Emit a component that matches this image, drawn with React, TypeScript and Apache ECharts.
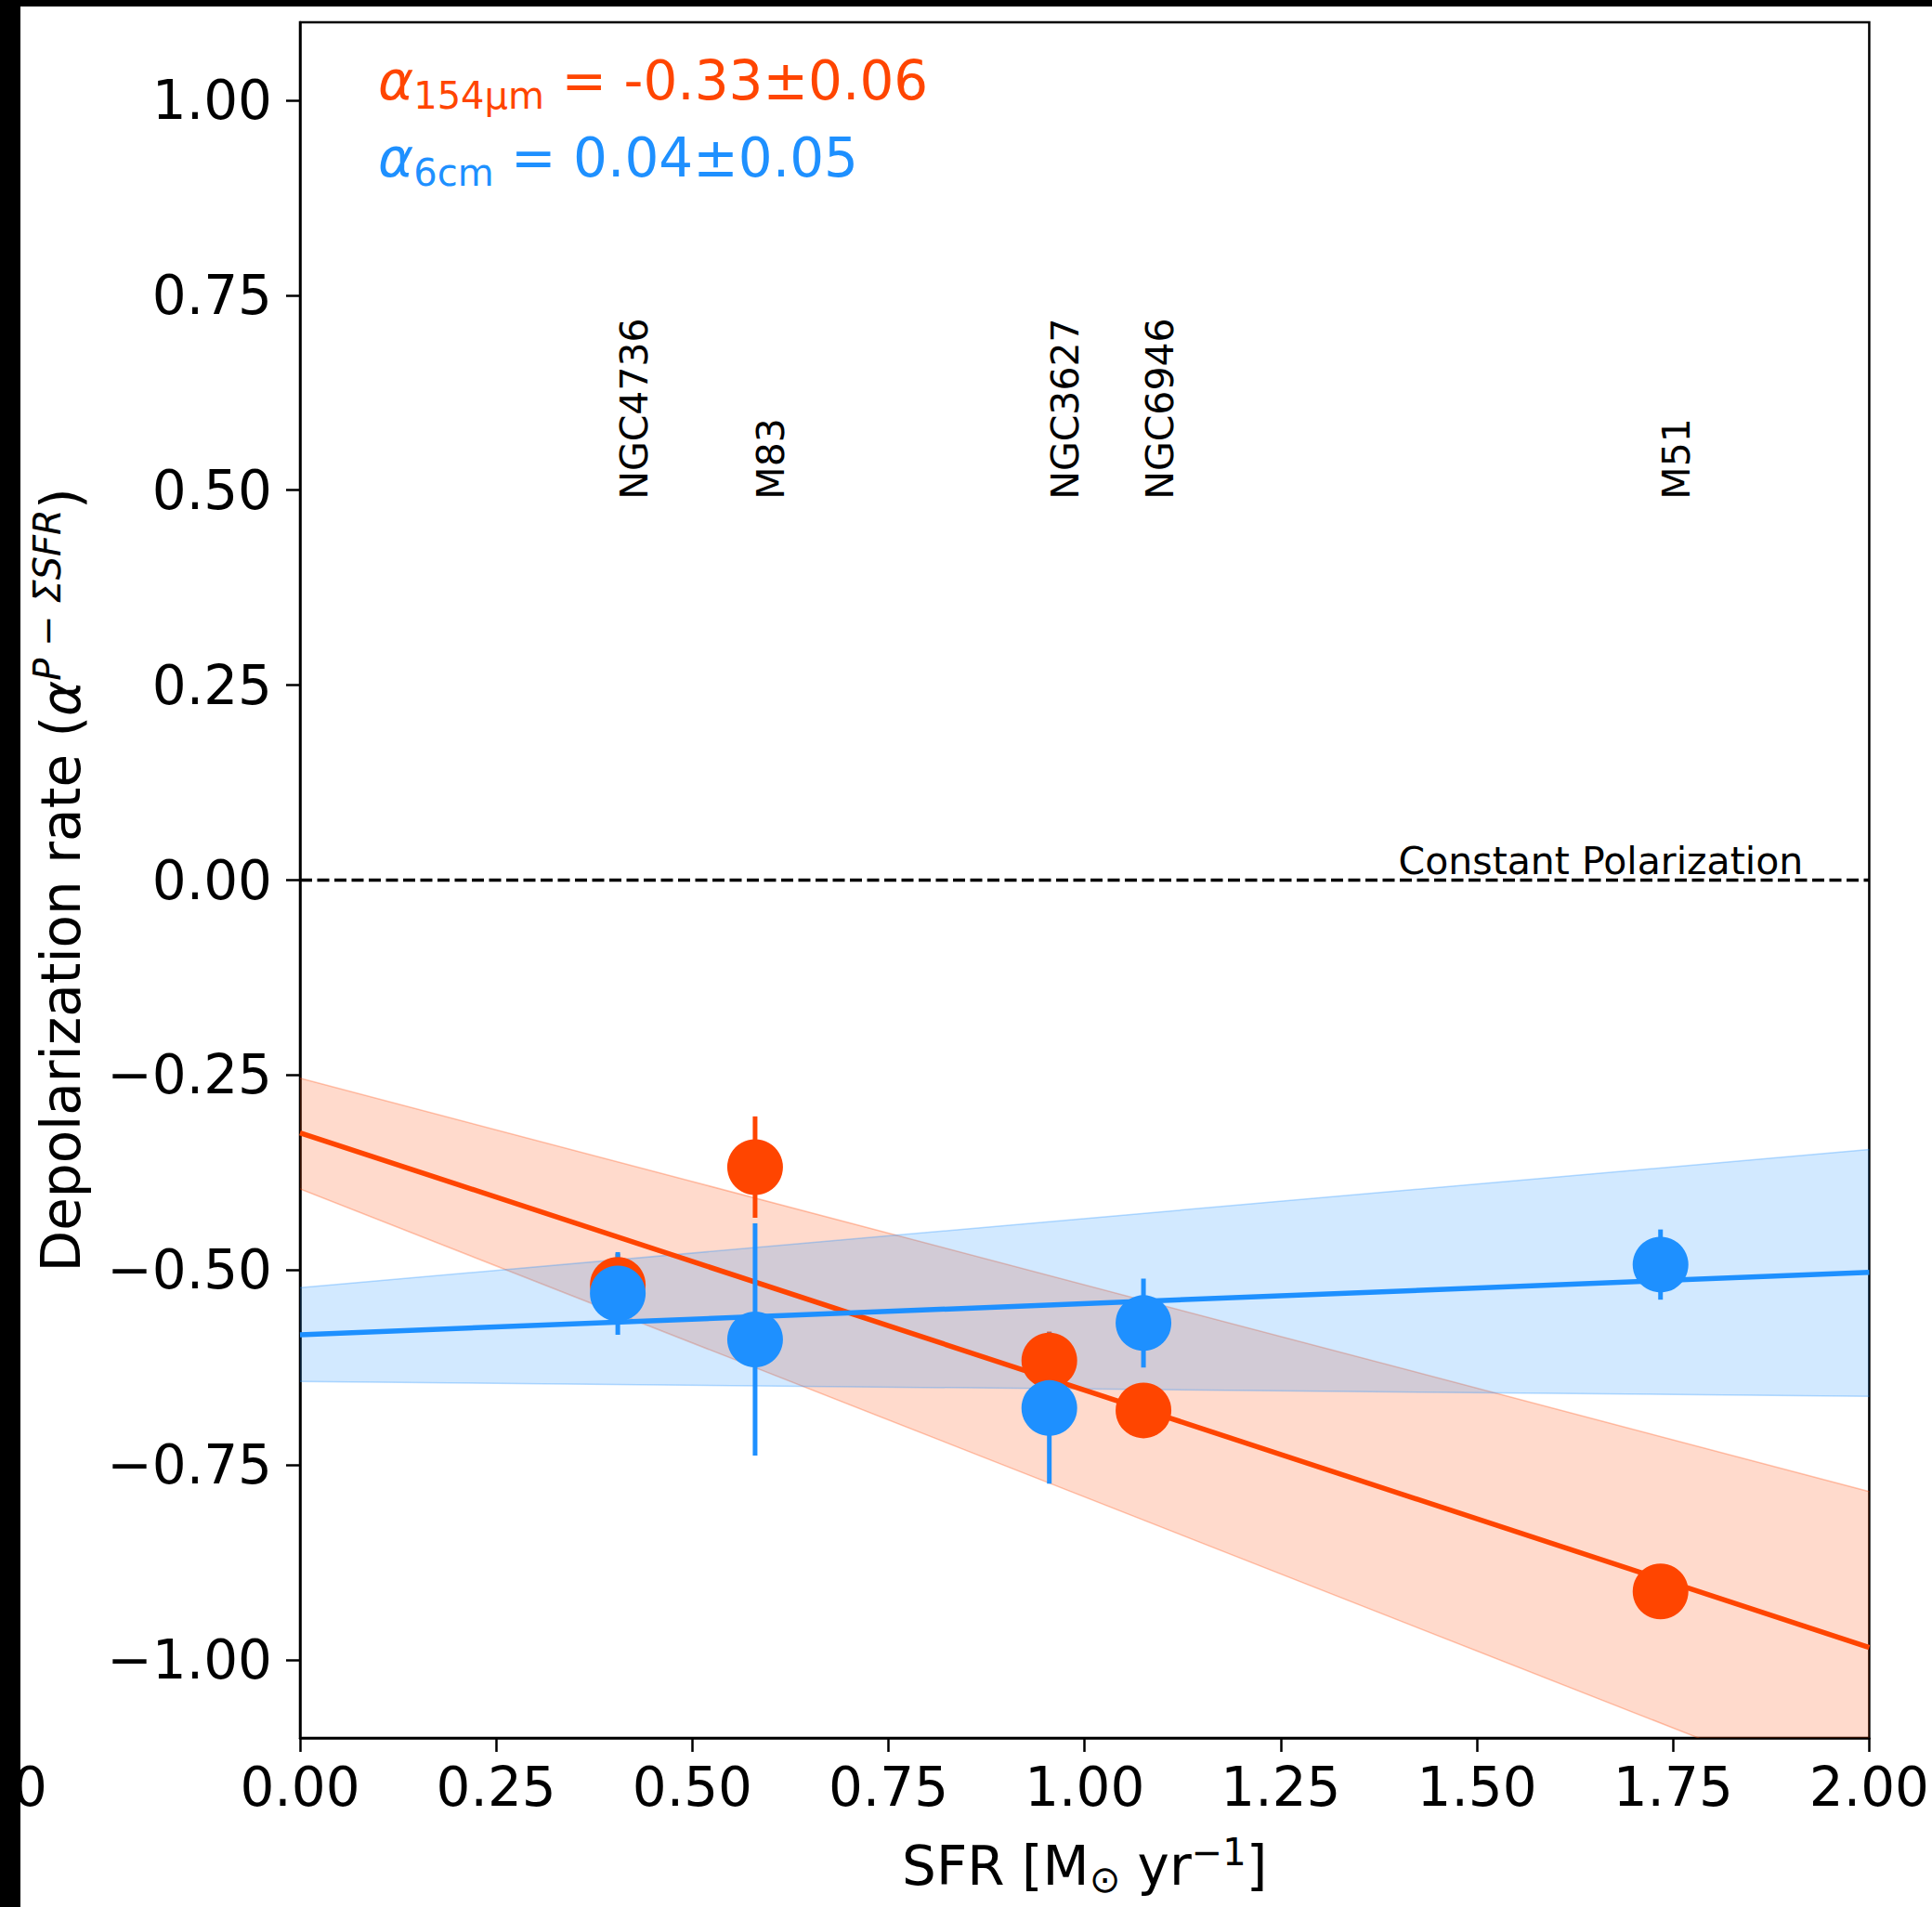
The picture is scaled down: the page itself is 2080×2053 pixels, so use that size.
import React, { useEffect, useRef } from 'react';
import * as echarts from 'echarts';

// ---------------- data ----------------
const galaxies = ['NGC4736', 'M83', 'NGC3627', 'NGC6946', 'M51'];
const sfr = [0.405, 0.58, 0.955, 1.075, 1.734];
const alpha154 = [-0.519, -0.368, -0.616, -0.68, -0.912];
const alpha154Err = [0.04, 0.065, 0.037, 0.025, 0.025];
const alpha6 = [-0.53, -0.589, -0.677, -0.568, -0.493];
const alpha6Err = [0.053, 0.149, 0.097, 0.057, 0.045];

const fitX = [0, 2];
const fit154 = [-0.324, -0.984];
const fit154Upper = [-0.254, -0.784];
const fit154Lower = [-0.396, -1.186];
const fit6 = [-0.583, -0.503];
const fit6Upper = [-0.5225, -0.3455];
const fit6Lower = [-0.643, -0.662];

const xTicks = [0, 0.25, 0.5, 0.75, 1, 1.25, 1.5, 1.75, 2];
const yTicks = [-1, -0.75, -0.5, -0.25, 0, 0.25, 0.5, 0.75, 1];
const xRange = [0, 2];
const yRange = [-1.1, 1.1];
const refLineY = 0;
const refLabelX = 1.4;
const refLabel = 'Constant Polarization';
const galaxyLabelY = 0.5;
const fitText154 = ['154μm', ' = -0.33±0.06'];
const fitText6 = ['6cm', ' = 0.04±0.05'];

// ---------------- style ----------------
const ORANGE = '#FF4500';
const BLUE = '#1E90FF';
const FONT = 'DejaVu Sans';
const W = 2080;
const H = 2053;

const fmt = (v: number) => Number(v).toFixed(2).replace('-', '\u2212');

function bandSeries(upper: number[], lower: number[], fill: string, edge: string, z: number) {
  return {
    type: 'custom',
    z,
    clip: true,
    silent: true,
    encode: { x: 0, y: [1, 2] },
    data: fitX.map((x, i) => [x, lower[i], upper[i]]),
    renderItem: (params: any, api: any) => {
      if (params.dataIndex !== 0) return null;
      const up = fitX.map((x, i) => api.coord([x, upper[i]]));
      const lo = fitX.map((x, i) => api.coord([x, lower[i]]));
      return {
        type: 'group',
        children: [
          { type: 'polygon', shape: { points: [...up, ...lo.slice().reverse()] }, style: { fill, stroke: 'none' } },
          { type: 'polyline', shape: { points: up }, style: { stroke: edge, lineWidth: 1.5, fill: 'none' } },
          { type: 'polyline', shape: { points: lo }, style: { stroke: edge, lineWidth: 1.5, fill: 'none' } },
        ],
      };
    },
  };
}

function errSeries(ys: number[], errs: number[], color: string, z: number) {
  return {
    type: 'custom',
    z,
    silent: true,
    encode: { x: 0, y: 1 },
    data: sfr.map((x, i) => [x, ys[i], errs[i]]),
    renderItem: (params: any, api: any) => {
      const x = api.value(0);
      const y = api.value(1);
      const e = api.value(2);
      const p1 = api.coord([x, y - e]);
      const p2 = api.coord([x, y + e]);
      return {
        type: 'line',
        shape: { x1: p1[0], y1: p1[1], x2: p2[0], y2: p2[1] },
        style: { stroke: color, lineWidth: 5 },
      };
    },
  };
}

function pointSeries(ys: number[], color: string, z: number) {
  return {
    type: 'scatter',
    z,
    symbol: 'circle',
    symbolSize: 60,
    itemStyle: { color, opacity: 1, borderWidth: 0 },
    data: sfr.map((x, i) => [x, ys[i]]),
  };
}

function fitSeries(ys: number[], color: string, z: number) {
  return {
    type: 'line',
    z,
    symbol: 'none',
    silent: true,
    lineStyle: { color, width: 5.5 },
    data: fitX.map((x, i) => [x, ys[i]]),
  };
}

const mainRich = {
  t: { fontFamily: FONT, fontSize: 58, lineHeight: 70, color: '#000', verticalAlign: 'middle' },
  a: { fontFamily: FONT, fontSize: 58, lineHeight: 70, fontStyle: 'italic', color: '#000', verticalAlign: 'middle' },
  p: { fontFamily: FONT, fontSize: 40, lineHeight: 40, fontStyle: 'italic', color: '#000', padding: [0, 0, 30, 0], verticalAlign: 'middle' },
  sub: { fontFamily: FONT, fontSize: 40, lineHeight: 40, color: '#000', padding: [28, 0, 0, 0], verticalAlign: 'middle' },
  sup: { fontFamily: FONT, fontSize: 40, lineHeight: 40, color: '#000', padding: [0, 0, 30, 0], verticalAlign: 'middle' },
};

function formulaRich(color: string) {
  return {
    a: { fontFamily: FONT, fontSize: 58, lineHeight: 72, fontStyle: 'italic', fill: color, verticalAlign: 'middle' },
    s: { fontFamily: FONT, fontSize: 40, lineHeight: 40, fill: color, padding: [32, 0, 0, 0], verticalAlign: 'middle' },
    m: { fontFamily: FONT, fontSize: 58, lineHeight: 72, fill: color, verticalAlign: 'middle' },
  };
}

export default function App() {
  const ref = useRef<HTMLDivElement>(null);

  useEffect(() => {
    const chart = echarts.init(ref.current as HTMLDivElement, null, { renderer: 'svg', width: W, height: H });

    const option: any = {
      animation: false,
      backgroundColor: '#ffffff',
      grid: {
        left: 323,
        top: 24,
        width: 1690,
        height: 1847,
        show: true,
        borderColor: '#000',
        borderWidth: 2.5,
        backgroundColor: 'transparent',
      },
      xAxis: {
        type: 'value',
        min: xRange[0],
        max: xRange[1],
        interval: 0.25,
        axisLine: { show: true, onZero: false, lineStyle: { color: '#000', width: 2.5 } },
        axisTick: { show: true, length: 15, lineStyle: { color: '#000', width: 2.5 }, customValues: xTicks },
        axisLabel: {
          customValues: xTicks,
          formatter: fmt,
          fontFamily: FONT,
          fontSize: 58,
          lineHeight: 58,
          color: '#000',
          margin: 24,
        },
        splitLine: { show: false },
        name: '{t|SFR [M}{sub|⊙}{t| yr}{sup|\u22121}{t|]}',
        nameLocation: 'middle',
        nameGap: 103,
        nameTextStyle: { fontFamily: FONT, fontSize: 58, color: '#000', rich: mainRich },
      },
      yAxis: {
        type: 'value',
        min: yRange[0],
        max: yRange[1],
        axisLine: { show: true, onZero: false, lineStyle: { color: '#000', width: 2.5 } },
        axisTick: { show: true, length: 15, lineStyle: { color: '#000', width: 2.5 }, customValues: yTicks },
        axisLabel: {
          customValues: yTicks,
          formatter: fmt,
          fontFamily: FONT,
          fontSize: 58,
          color: '#000',
          margin: 30,
        },
        splitLine: { show: false },
        name: '{t|Depolarization rate (}{a|α}{p|P \u2212 ΣSFR}{t|)}',
        nameLocation: 'middle',
        nameRotate: 90,
        nameGap: 222,
        nameTextStyle: { fontFamily: FONT, fontSize: 58, color: '#000', rich: mainRich },
      },
      series: [
        bandSeries(fit154Upper, fit154Lower, 'rgba(255,69,0,0.2)', 'rgba(255,69,0,0.3)', 1),
        bandSeries(fit6Upper, fit6Lower, 'rgba(30,144,255,0.2)', 'rgba(30,144,255,0.3)', 2),
        {
          type: 'line',
          z: 3,
          symbol: 'none',
          silent: true,
          lineStyle: { color: '#000', width: 3.5, type: [13, 5.5] },
          data: xRange.map((x) => [x, refLineY]),
        },
        fitSeries(fit154, ORANGE, 3),
        fitSeries(fit6, BLUE, 3),
        errSeries(alpha154, alpha154Err, ORANGE, 4),
        errSeries(alpha6, alpha6Err, BLUE, 4),
        pointSeries(alpha154, ORANGE, 5),
        pointSeries(alpha6, BLUE, 6),
      ],
    };

    chart.setOption(option);

    const graphics: any[] = [];

    galaxies.forEach((g, i) => {
      const p = chart.convertToPixel({ gridIndex: 0 }, [sfr[i], galaxyLabelY]) as number[];
      graphics.push({
        type: 'text',
        x: p[0] - 3,
        y: p[1] + 10,
        rotation: Math.PI / 2,
        z: 10,
        style: {
          text: g,
          fontFamily: FONT,
          fontSize: 41,
          lineHeight: 41,
          fill: '#000',
          align: 'left',
          verticalAlign: 'top',
        },
      });
    });

    const rp = chart.convertToPixel({ gridIndex: 0 }, [refLabelX, refLineY]) as number[];
    graphics.push({
      type: 'text',
      x: rp[0],
      y: rp[1],
      z: 10,
      style: {
        text: refLabel,
        fontFamily: FONT,
        fontSize: 41,
        lineHeight: 41,
        fill: '#000',
        align: 'left',
        verticalAlign: 'bottom',
      },
    });

    graphics.push({
      type: 'text',
      x: 407,
      y: 51,
      z: 10,
      style: {
        text: `{a|α}{s|${fitText154[0]}}{m|${fitText154[1]}}`,
        rich: formulaRich(ORANGE),
        align: 'left',
        verticalAlign: 'top',
      },
    });
    graphics.push({
      type: 'text',
      x: 407,
      y: 134,
      z: 10,
      style: {
        text: `{a|α}{s|${fitText6[0]}}{m|${fitText6[1]}}`,
        rich: formulaRich(BLUE),
        align: 'left',
        verticalAlign: 'top',
      },
    });

    // fragment of a neighbouring panel's tick label, cut by the frame
    graphics.push({
      type: 'text',
      x: 14,
      y: 1895,
      z: 50,
      style: {
        text: '0',
        fontFamily: FONT,
        fontSize: 58,
        lineHeight: 58,
        fill: '#000',
        align: 'left',
        verticalAlign: 'top',
      },
    });

    // black frame bands
    graphics.push({ type: 'rect', z: 100, shape: { x: 0, y: 0, width: W, height: 7 }, style: { fill: '#000' } });
    graphics.push({ type: 'rect', z: 100, shape: { x: 0, y: 0, width: 22, height: H }, style: { fill: '#000' } });

    chart.setOption({ graphic: graphics });

    return () => {
      chart.dispose();
    };
  }, []);

  return (
    <div
      ref={ref}
      style={{ position: 'fixed', left: 0, top: 0, width: W, height: H, background: '#fff' }}
    />
  );
}
